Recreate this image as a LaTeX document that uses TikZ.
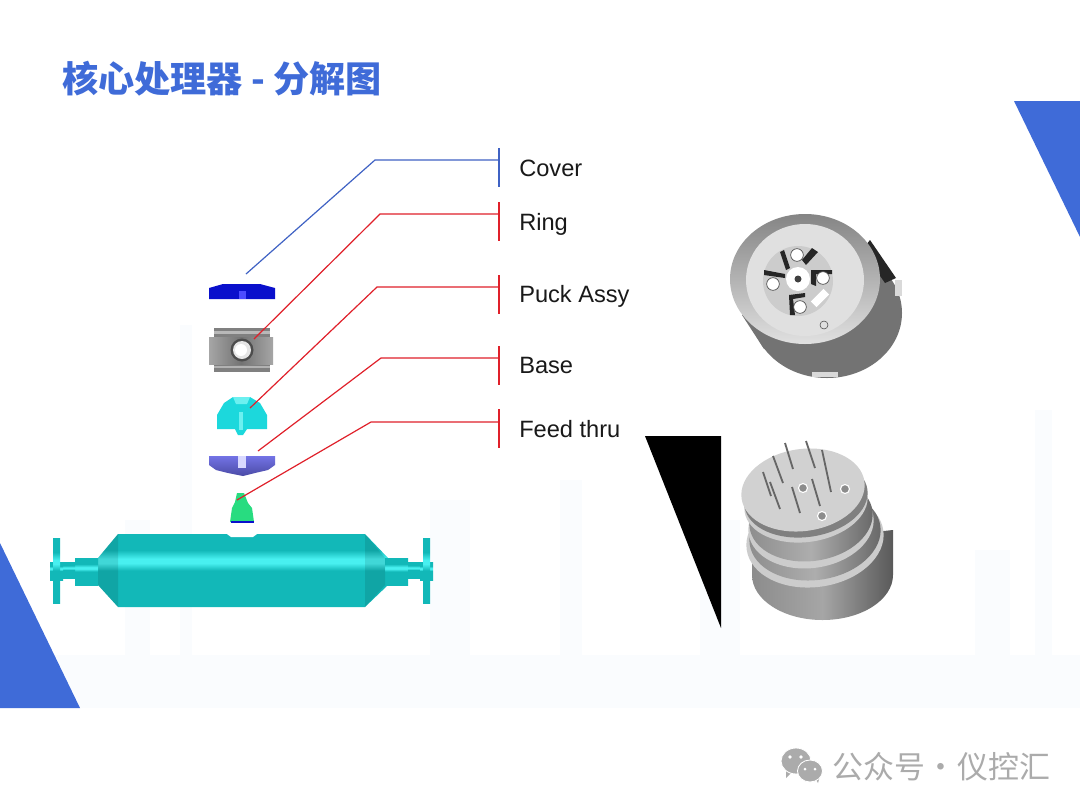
\documentclass[tikz,border=0pt]{standalone}
\usepackage{fontspec}
\setmainfont{Liberation Sans}
\newfontfamily\cjk{Noto Sans CJK SC}
\usetikzlibrary{arrows.meta,positioning,calc}
\definecolor{slideblue}{HTML}{3F6BD8}
\definecolor{haze}{HTML}{FAFCFE}
\definecolor{tubeteal}{HTML}{12B8B8}
\definecolor{tubedark}{HTML}{0A8A8A}
\definecolor{tubelight}{HTML}{48F0F0}
\definecolor{markgray}{HTML}{ABABAB}
\definecolor{leadblue}{HTML}{3F62C4}
\definecolor{leadred}{HTML}{E0202A}
\definecolor{puckcyan}{HTML}{1CD8DC}
\definecolor{puckpale}{HTML}{6CF0F0}
\definecolor{coverblue}{HTML}{0A10CC}
\definecolor{feedgreen}{HTML}{28DC80}
\pgfdeclareverticalshading{tubeshade}{100bp}{
  color(0bp)=(tubedark); color(5bp)=(tubedark); color(20bp)=(tubeteal);
  color(50bp)=(tubeteal); color(55bp)=(tubelight); color(58bp)=(tubelight);
  color(64bp)=(tubeteal); color(95bp)=(tubeteal); color(100bp)=(tubedark)}
\tikzset{
  partlabel/.style={anchor=base west, inner sep=0pt, font=\fontsize{16.8}{20}\selectfont, text=black!90},
  leaderblue/.style={draw=leadblue, line width=0.85pt},
  leaderred/.style={draw=leadred, line width=0.85pt},
  tubepart/.style={shading=tubeshade, draw=none},
  bluetri/.style={fill=slideblue, draw=none},
  skyline/.style={fill=haze, draw=none},
  pinline/.style={draw=black!60, line width=1.3pt},
  pinhole/.style={fill=black!45, draw=white, line width=0.8pt},
  devscrew/.style={circle, draw=black!70, fill=white, line width=0.5pt, minimum size=9pt, inner sep=0pt},
  markbubble/.style={fill=markgray, draw=white, line width=0.6pt},
}
\newcommand{\tubeend}{
  \shade[tubepart] (75,558) -- (98,558) -- (98,585) -- (75,585) -- cycle;
  \shade[tubepart] (63,562) -- (75,562) -- (75,578) -- (63,578) -- cycle;
  \shade[tubepart] (50,562) -- (63,562) -- (63,580) -- (50,580) -- cycle;
  \shade[tubepart] (53,538) -- (60,538) -- (60,603) -- (53,603) -- cycle;
  \fill[black, opacity=0.1] (118,534) -- (98,558) -- (98,585) -- (118,607) -- cycle;
}
\begin{document}
\begin{tikzpicture}[x=0.025cm,y=-0.025cm]
  \useasboundingbox (0,0) rectangle (1080,810);
  \fill[white] (0,0) rectangle (1080,810);

  \fill[skyline] (0,655) rectangle (1080,708);
  \fill[skyline] (125,520) rectangle (150,708);
  \fill[skyline] (180,325) rectangle (192,708);
  \fill[skyline] (430,500) rectangle (470,708);
  \fill[skyline] (560,480) rectangle (582,708);
  \fill[skyline] (700,520) rectangle (740,708);
  \fill[skyline] (975,550) rectangle (1010,708);
  \fill[skyline] (1035,410) rectangle (1052,708);

  \fill[bluetri] (1014,101) -- (1080,101) -- (1080,237) -- cycle;
  \fill[bluetri] (0,543) -- (80,708) -- (0,708) -- cycle;
  \fill[black] (645,436) -- (721,436) -- (721,628) -- cycle;

  \node[anchor=west, inner sep=0pt, text=slideblue, font=\cjk\bfseries\fontsize{25.7}{30}\selectfont] (title)
    at (62,79) {核心处理器 - 分解图};

  % exploded parts
  \fill[coverblue] (209,288) -- (223,284) -- (260,284) -- (275,288) -- (275,299) -- (209,299) -- cycle;
  \fill[blue!70!white] (239,291) rectangle (246,299);

  \fill[black!50] (214,328) rectangle (270,372);
  \shade[left color=black!35, right color=black!35, middle color=black!55] (209,337) rectangle (273,364);
  \fill[black!28] (214,331) rectangle (270,334);
  \fill[black!30] (214,366) rectangle (270,368);
  \fill[black!70] (242,350) circle (11.5);
  \fill[black!10] (242,350) circle (9);
  \fill[white] (241,350) circle (6);

  \fill[puckcyan] (217,415) -- (224,403) -- (233,397) -- (250,397) -- (260,403) -- (267,415)
    -- (267,429) -- (247,429) -- (243,435) -- (238,435) -- (235,429) -- (217,429) -- cycle;
  \fill[puckpale] (233,397) -- (250,397) -- (247,404) -- (236,404) -- cycle;
  \fill[puckpale] (239,412) rectangle (243,430);

  \shade[top color=blue!50!white!90!black, bottom color=blue!55!white!65!black] (209,456) -- (275,456) -- (275,465) -- (268,470) -- (255,473) -- (243,476) -- (228,473) -- (216,470) -- (209,465) -- cycle;
  \fill[blue!15] (238,456) rectangle (246,468);

  \fill[feedgreen] (237,493) -- (244,493) -- (248,503) -- (252,508) -- (254,522) -- (230,522) -- (232,508) -- (235,502) -- cycle;
  \fill[coverblue] (231,521) rectangle (254,523);

  % meter tube
  \shade[tubepart] (118,534) -- (365,534) -- (388,558) -- (388,585) -- (365,607) -- (118,607) -- (98,585) -- (98,558) -- cycle;
  \fill[white] (227,534) -- (257,534) -- (253,537) -- (231,537) -- cycle;
  \tubeend
  \begin{scope}[shift={(483,0)},xscale=-1]
    \tubeend
  \end{scope}

  % round device
  \fill[black!55] (827,313) ellipse (75 and 65);
  \fill[black!55] (868,243) -- (890,277) -- (764,349) -- (742,315) -- cycle;
  \fill[black!85] (870,240) -- (896,278) -- (885,283) -- (862,250) -- cycle;
  \fill[black!15] (895,280) rectangle (902,296);
  \fill[black!15] (812,372) rectangle (838,377);
  \shade[top color=black!48, bottom color=black!12] (805,279) ellipse (75 and 65);
  \fill[black!12] (805,280) ellipse (59 and 56);
  \fill[black!20] (798,281) circle (35);
  \fill[black!85] (784,250) -- (790,268) -- (786,270) -- (780,252) -- cycle;
  \fill[black!85] (812,248) -- (818,252) -- (806,265) -- (802,260) -- cycle;
  \fill[black!85] (764,270) -- (785,274) -- (785,278) -- (764,275) -- cycle;
  \fill[black!85] (811,270) -- (832,270) -- (832,274) -- (816,274) -- (816,286) -- (811,284) -- cycle;
  \fill[black!85] (789,295) -- (805,293) -- (805,297) -- (793,299) -- (795,315) -- (790,315) -- cycle;
  \fill[white, rotate around={45:(820,298)}] (811,294) rectangle (829,302);
  \node[devscrew] (screwa) at (797,255) {};
  \node[devscrew] (screwb) at (773,284) {};
  \node[devscrew] (screwc) at (823,278) {};
  \node[devscrew] (screwd) at (800,307) {};
  \fill[white] (798,279) circle (12);
  \fill[black!75] (798,279) circle (3.5);
  \draw[black!70] (824,325) circle (4);

  % feed thru device
  \shade[left color=black!45, right color=black!65, middle color=black!35] (752,545) -- (893,530) -- (893,575) arc (0:180:70.5 and 45) -- cycle;
  \fill[black!20, rotate around={8:(815,540)}] (815,540) ellipse (69 and 47);
  \shade[left color=black!45, right color=black!60, middle color=black!32, rotate around={8:(815,535)}] (815,535) ellipse (66 and 45);
  \fill[black!20, rotate around={8:(811,525)}] (811,525) ellipse (63 and 43);
  \shade[left color=black!45, right color=black!60, middle color=black!32, rotate around={8:(811,519)}] (811,519) ellipse (62 and 42);
  \fill[black!20, rotate around={8:(806,503)}] (806,503) ellipse (62 and 39);
  \fill[black!50, rotate around={8:(806,498)}] (806,498) ellipse (62 and 39);
  \fill[black!18, rotate around={8:(803,490)}] (803,490) ellipse (62 and 41);
  \fill[pinhole] (803,488) circle (4.5);
  \fill[pinhole] (845,489) circle (4.5);
  \fill[pinhole] (822,516) circle (4.5);
  \draw[pinline] (785,443) -- (793,469);
  \draw[pinline] (806,441) -- (815,468);
  \draw[pinline] (822,450) -- (831,492);
  \draw[pinline] (773,456) -- (783,483);
  \draw[pinline] (763,472) -- (771,496);
  \draw[pinline] (770,482) -- (780,509);
  \draw[pinline] (792,487) -- (800,513);
  \draw[pinline] (812,479) -- (820,506);

  % labels and leaders
  \node[partlabel] (coverlabel) at (519,176) {Cover};
  \node[partlabel] (ringlabel) at (519,230) {Ring};
  \node[partlabel] (pucklabel) at (519,302) {Puck Assy};
  \node[partlabel] (baselabel) at (519,373) {Base};
  \node[partlabel] (feedlabel) at (519,437) {Feed thru};

  \coordinate (covertop) at (499,148);
  \coordinate (coverbot) at (499,187);
  \coordinate (coverjoin) at (499,160);
  \coordinate (coverbend) at (375,160);
  \coordinate (coverend) at (246,274);
  \coordinate (ringtop) at (499,202);
  \coordinate (ringbot) at (499,241);
  \coordinate (ringjoin) at (499,214);
  \coordinate (ringbend) at (380,214);
  \coordinate (ringend) at (254,339);
  \coordinate (pucktop) at (499,275);
  \coordinate (puckbot) at (499,314);
  \coordinate (puckjoin) at (499,287);
  \coordinate (puckbend) at (377,287);
  \coordinate (puckend) at (250,408);
  \coordinate (basetop) at (499,346);
  \coordinate (basebot) at (499,385);
  \coordinate (basejoin) at (499,358);
  \coordinate (basebend) at (381,358);
  \coordinate (baseend) at (258,451);
  \coordinate (feedtop) at (499,409);
  \coordinate (feedbot) at (499,448);
  \coordinate (feedjoin) at (499,422);
  \coordinate (feedbend) at (371,422);
  \coordinate (feedend) at (237,500);

  \draw[leaderblue] (covertop) -- (coverbot);
  \draw[leaderblue] (coverjoin) -- (coverbend) -- (coverend);
  \draw[leaderred] (ringtop) -- (ringbot);
  \draw[leaderred] (ringjoin) -- (ringbend) -- (ringend);
  \draw[leaderred] (pucktop) -- (puckbot);
  \draw[leaderred] (puckjoin) -- (puckbend) -- (puckend);
  \draw[leaderred] (basetop) -- (basebot);
  \draw[leaderred] (basejoin) -- (basebend) -- (baseend);
  \draw[leaderred] (feedtop) -- (feedbot);
  \draw[leaderred] (feedjoin) -- (feedbend) -- (feedend);

  % footer mark
  \fill[markgray] (786,770) -- (794,770) -- (786,778) -- cycle;
  \fill[markbubble] (796,761) ellipse (15 and 13);
  \fill[markgray] (815,778) -- (820,776) -- (818,783) -- cycle;
  \fill[markbubble] (810,771) ellipse (12.5 and 11);
  \fill[white] (790,757) circle (1.8);
  \fill[white] (801,757) circle (1.8);
  \fill[white] (805,769) circle (1.5);
  \fill[white] (815,769) circle (1.5);
  \node[anchor=west, inner sep=0pt, text=markgray, font=\cjk\fontsize{22}{26}\selectfont] (marktext)
    at (832,767) {公众号\kern0.5pt·\kern0.5pt仪控汇};
\end{tikzpicture}
\end{document}
